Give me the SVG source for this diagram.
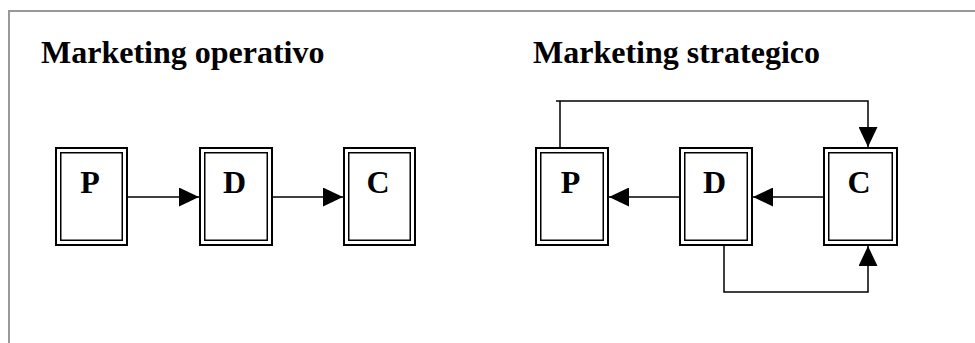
<svg xmlns="http://www.w3.org/2000/svg" width="975" height="343" viewBox="0 0 975 343">
<defs>
<style>
.frame{fill:none;stroke:#999;stroke-width:2}
.title{font-family:"Liberation Serif","Times New Roman",serif;font-weight:bold;font-size:32px;fill:#000}
.lbl{font-family:"Liberation Serif","Times New Roman",serif;font-weight:bold;font-size:32px;fill:#000;text-anchor:middle}
.outer{fill:#fff;stroke:#000;stroke-width:2}
.inner{fill:none;stroke:#000;stroke-width:1.5}
.conn{fill:none;stroke:#000;stroke-width:1.5}
</style>
<marker id="ah" viewBox="0 0 20 19" refX="20" refY="9.5" markerWidth="20" markerHeight="19" markerUnits="userSpaceOnUse" orient="auto">
<path d="M0,0 L20,9.5 L0,19 Z" fill="#000"/>
</marker>
</defs>
<rect width="975" height="343" fill="#fff"/>
<rect class="frame" x="9" y="11" width="980" height="350"/>
<text class="title" x="41" y="63">Marketing operativo</text>
<text class="title" x="533" y="63">Marketing strategico</text>
<g id="op-P"><rect class="outer" x="56" y="148" width="71" height="97"/><rect class="inner" x="60.75" y="152.75" width="61.5" height="87.5"/><text class="lbl" x="90" y="193">P</text></g>
<g id="op-D"><rect class="outer" x="200" y="148" width="72" height="97"/><rect class="inner" x="204.75" y="152.75" width="62.5" height="87.5"/><text class="lbl" x="234.5" y="193">D</text></g>
<g id="op-C"><rect class="outer" x="344" y="148" width="71" height="97"/><rect class="inner" x="348.75" y="152.75" width="61.5" height="87.5"/><text class="lbl" x="378" y="193">C</text></g>
<g id="st-P"><rect class="outer" x="536" y="148" width="72" height="97"/><rect class="inner" x="540.75" y="152.75" width="62.5" height="87.5"/><text class="lbl" x="570.5" y="193">P</text></g>
<g id="st-D"><rect class="outer" x="680" y="148" width="72" height="97"/><rect class="inner" x="684.75" y="152.75" width="62.5" height="87.5"/><text class="lbl" x="714.5" y="193">D</text></g>
<g id="st-C"><rect class="outer" x="824" y="148" width="73" height="97"/><rect class="inner" x="828.75" y="152.75" width="63.5" height="87.5"/><text class="lbl" x="859" y="193">C</text></g>
<g id="connectors">
<path class="conn" d="M128,197 H199" marker-end="url(#ah)"/>
<path class="conn" d="M273,197 H343" marker-end="url(#ah)"/>
<path class="conn" d="M823,197 H753" marker-end="url(#ah)"/>
<path class="conn" d="M679,197 H609" marker-end="url(#ah)"/>
<path class="conn" d="M560,147 V101 M556,101 H868 V147" marker-end="url(#ah)"/>
<path class="conn" d="M724,246 V292 H868 V246" marker-end="url(#ah)"/>
</g>
</svg>
